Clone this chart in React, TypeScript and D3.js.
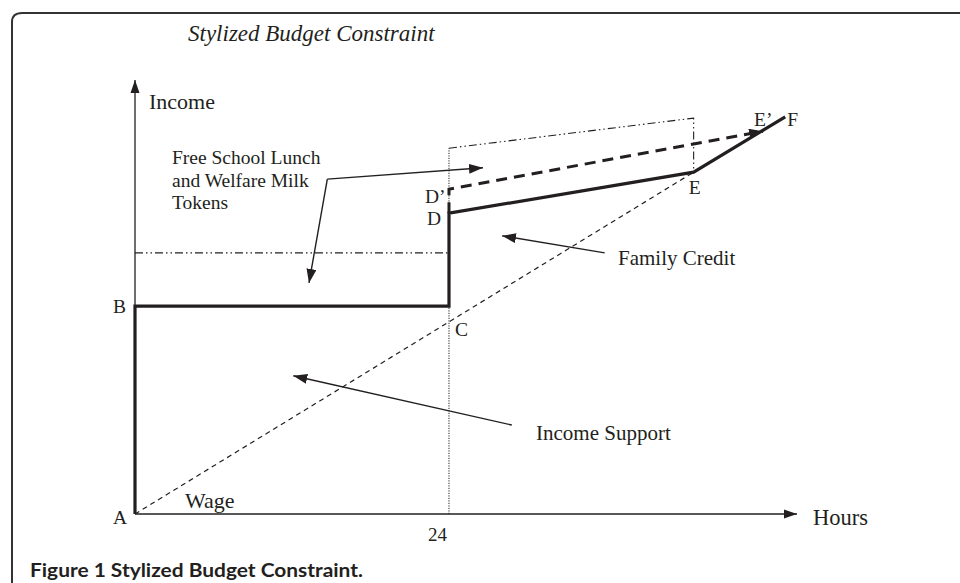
import React from "react";
import * as d3 from "d3";

const W = 960;
const H = 583;

// Budget constraint (hours, income in stylized units)
const budgetHours = [0, 0, 24, 24, 42.7, 49.7];
const budgetIncome = [0, 47.7, 47.7, 69.0, 78.4, 91.1];
// Family credit increase D -> D' -> E'
const creditHours = [24, 24, 48.0];
const creditIncome = [69.0, 74.5, 87.8];
// Wage line A -> E
const wageHours = [0, 42.7];
const wageIncome = [0, 78.4];
// Free school lunch / milk token level (before 24 hours)
const tokenHours = [0, 24];
const tokenIncome = [59.9, 59.9];
// Token box after 24 hours
const boxHours = [24, 42.7, 42.7];
const boxIncome = [83.9, 90.8, 78.4];
const hours24Line = [0, 83.9];

// Points labels
const pointNames = ["A", "B", "C", "D", "D\u2019", "E", "E\u2019", "F"];
const pointHours = [0, 0, 24, 24, 24, 42.7, 48.0, 49.7];
const pointIncome = [0, 47.7, 44.1, 69.0, 74.5, 78.4, 87.8, 91.1];

// Axis ticks
const tickHours = [24];
const tickLabels = ["24"];

// annotation arrows (hours, income)
const lunchCorner = [14.7, 76.8];
const lunchTips = [[26.6, 79.4], [13.3, 53.0]];
const creditArrow = [[35.9, 59.9], [28.05, 63.8]];
const supportArrow = [[28.8, 20.4], [12.1, 31.7]];

const lunchLines = ["Free School Lunch", "and Welfare Milk", "Tokens"];

const x = d3.scaleLinear().domain([0, 50.6]).range([135, 797]);
const y = d3.scaleLinear().domain([0, 100]).range([514, 78]);

const line = d3.line<[number, number]>().x((d) => x(d[0])).y((d) => y(d[1]));
const zipPts = (hs: number[], is: number[]) => hs.map((h, i) => [h, is[i]] as [number, number]);

const labelOffsets: Record<string, [number, number]> = {
  A: [-22, 10],
  B: [-22, 7],
  C: [6, 14],
  D: [-22, 12],
  "D\u2019": [-24, 14],
  E: [-5, 22],
  "E\u2019": [-9, -5],
  F: [2, 9],
};

const ink = "#231f20";
const serif = "'Liberation Serif', 'Times New Roman', serif";

export default function App() {
  return (
    <svg
      width={W}
      height={H}
      viewBox={`0 0 ${W} ${H}`}
      style={{ position: "absolute", left: 0, top: 0, background: "#fff" }}
    >
      <defs>
        <marker id="ah" markerUnits="userSpaceOnUse" markerWidth="16" markerHeight="12" refX="14" refY="5" orient="auto">
          <path d="M0,0L14,5L0,10Z" fill={ink} />
        </marker>
        <marker id="ahs" markerUnits="userSpaceOnUse" markerWidth="16" markerHeight="12" refX="13" refY="5" orient="auto">
          <path d="M0,0.5L13,5L0,9.5Z" fill={ink} />
        </marker>
      </defs>

      {/* frame */}
      <path d={`M12,${H}L12,22Q12,13 22,13L${W},13`} fill="none" stroke="#333" strokeWidth={2} />

      <text x={188} y={41} fontFamily={serif} fontStyle="italic" fontSize={23} fill={ink}>
        Stylized Budget Constraint
      </text>

      {/* axes */}
      <line x1={x(0)} y1={y(0)} x2={x(0)} y2={y(100) + 2} stroke={ink} strokeWidth={1.3} markerEnd="url(#ahs)" />
      <line x1={x(0)} y1={y(0)} x2={x(50.6)} y2={y(0)} stroke={ink} strokeWidth={1.3} markerEnd="url(#ahs)" />

      {/* 24 hours dotted line */}
      <path
        d={line(zipPts([24, 24], hours24Line)) || ""}
        fill="none"
        stroke={ink}
        strokeWidth={1}
        strokeDasharray="1.2,1.3"
      />
      {tickHours.map((h, i) => (
        <text key={i} x={x(h) - 2} y={541} textAnchor="end" fontFamily={serif} fontSize={19} fill={ink}>
          {tickLabels[i]}
        </text>
      ))}

      {/* token level */}
      <path
        d={line(zipPts(tokenHours, tokenIncome)) || ""}
        fill="none"
        stroke={ink}
        strokeWidth={1.1}
        strokeDasharray="8,3,1.5,3,1.5,3"
      />
      <path
        d={line(zipPts(boxHours, boxIncome)) || ""}
        fill="none"
        stroke={ink}
        strokeWidth={1.1}
        strokeDasharray="8,3,1.5,3,1.5,3"
      />

      {/* wage line */}
      <path
        d={line(zipPts(wageHours, wageIncome)) || ""}
        fill="none"
        stroke={ink}
        strokeWidth={1.2}
        strokeDasharray="5,4"
      />

      {/* family credit dashed */}
      <path
        d={line(zipPts(creditHours, creditIncome)) || ""}
        fill="none"
        stroke={ink}
        strokeWidth={3}
        strokeDasharray="11,7"
        markerEnd="url(#ah)"
      />

      {/* budget constraint */}
      <path
        d={line(zipPts(budgetHours, budgetIncome)) || ""}
        fill="none"
        stroke={ink}
        strokeWidth={3.2}
        strokeLinejoin="miter"
      />

      {/* annotation arrows */}
      {lunchTips.map((t, i) => (
        <line
          key={i}
          x1={x(lunchCorner[0])}
          y1={y(lunchCorner[1])}
          x2={x(t[0])}
          y2={y(t[1])}
          stroke={ink}
          strokeWidth={1.4}
          markerEnd="url(#ah)"
        />
      ))}
      <line
        x1={x(creditArrow[0][0])}
        y1={y(creditArrow[0][1])}
        x2={x(creditArrow[1][0])}
        y2={y(creditArrow[1][1])}
        stroke={ink}
        strokeWidth={1.4}
        markerEnd="url(#ah)"
      />
      <line
        x1={x(supportArrow[0][0])}
        y1={y(supportArrow[0][1])}
        x2={x(supportArrow[1][0])}
        y2={y(supportArrow[1][1])}
        stroke={ink}
        strokeWidth={1.4}
        markerEnd="url(#ah)"
      />

      {/* point labels */}
      {pointNames.map((n, i) => (
        <text
          key={n}
          x={x(pointHours[i]) + labelOffsets[n][0]}
          y={y(pointIncome[i]) + labelOffsets[n][1]}
          fontFamily={serif}
          fontSize={19.5}
          fill={ink}
        >
          {n}
        </text>
      ))}

      {/* text labels */}
      <text x={149} y={109} fontFamily={serif} fontSize={22} fill={ink}>Income</text>
      <text x={813} y={525} fontFamily={serif} fontSize={22.5} fill={ink}>Hours</text>
      <text x={185} y={508} fontFamily={serif} fontSize={22} fill={ink}>Wage</text>
      {lunchLines.map((s, i) => (
        <text key={s} x={172} y={164 + i * 22.5} fontFamily={serif} fontSize={19.5} fill={ink}>
          {s}
        </text>
      ))}
      <text x={618} y={265} fontFamily={serif} fontSize={21} fill={ink}>Family Credit</text>
      <text x={536} y={440} fontFamily={serif} fontSize={21} fill={ink}>Income Support</text>

      {/* caption */}
      <text
        x={30}
        y={577}
        fontFamily="Lato, 'Open Sans', sans-serif"
        fontWeight="bold"
        fontSize={19.5}
        textLength={333}
        lengthAdjust="spacingAndGlyphs"
        fill={ink}
      >
        Figure 1 Stylized Budget Constraint.
      </text>
    </svg>
  );
}
